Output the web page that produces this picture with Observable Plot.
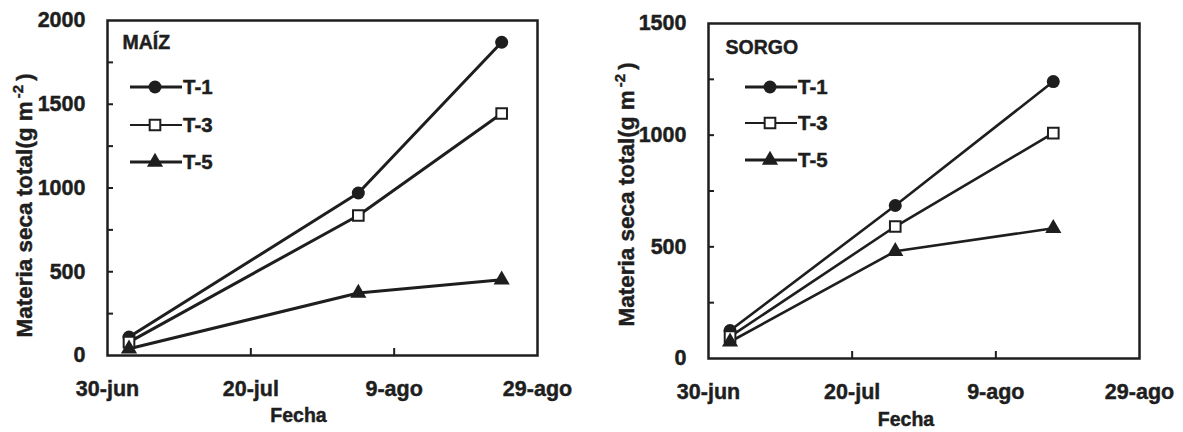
<!DOCTYPE html>
<html>
<head>
<meta charset="utf-8">
<script src="https://cdn.jsdelivr.net/npm/d3@7"></script>
<script src="https://cdn.jsdelivr.net/npm/@observablehq/plot@0.6"></script>
<style>
  body { margin: 0; background: #fff; }
  #chart { display: flex; width: 1183px; height: 432px; }
  #chart svg text { stroke: #1e1e1e; stroke-width: 0.45px; }
</style>
</head>
<body>
<div id="chart"></div>
<script>
// Treatments shown in both panels
const seriesNames = ["T-1", "T-3", "T-5"];

// Date axis (Fecha)
const xTickDates = ["2001-06-30", "2001-07-20", "2001-08-09", "2001-08-29"];
const xTickLabels = ["30-jun", "20-jul", "9-ago", "29-ago"];

// MAÍZ: total dry matter (g m-2) per sampling date
const maizFechas = ["2001-07-03", "2001-08-04", "2001-08-24"];
const maizT1 = [110, 970, 1870];
const maizT3 = [80, 836, 1445];
const maizT5 = [40, 373, 452];
const maizYTicks = [0, 500, 1000, 1500, 2000];
const maizYMinor = [250, 500, 750, 1000, 1250, 1500, 1750];

// SORGO: total dry matter (g m-2) per sampling date
const sorgoFechas = ["2001-07-03", "2001-07-26", "2001-08-17"];
const sorgoT1 = [125, 685, 1240];
const sorgoT3 = [98, 591, 1009];
const sorgoT5 = [75, 480, 583];
const sorgoYTicks = [0, 500, 1000, 1500];
const sorgoYMinor = [250, 500, 750, 1000, 1250];

const ink = "#1e1e1e";
const font = "'Liberation Sans', Arial, Helvetica, sans-serif";
const yLabel = "Materia seca total(g m";

const parse = d3.isoParse;

function rowsFor(fechas, t1, t3, t5) {
  const rows = [];
  [t1, t3, t5].forEach((vals, s) => {
    vals.forEach((v, i) => rows.push({serie: seriesNames[s], fecha: parse(fechas[i]), valor: v}));
  });
  return rows;
}

// Marker styles per treatment
const markerStyle = {
  "T-1": {symbol: "circle", r: 6.5, fill: ink, stroke: "none", strokeWidth: 0},
  "T-3": {symbol: "square", r: 6.0, fill: "#fff", stroke: ink, strokeWidth: 2},
  "T-5": {symbol: "triangle", r: 6.0, fill: ink, stroke: "none", strokeWidth: 0}
};

// Legend drawn inside the frame, offsets relative to the frame's top-left corner
function legendMark(cfg) {
  return (index, scales, values, dims) => {
    const g = d3.create("svg:g");
    seriesNames.forEach((name, i) => {
      const st = markerStyle[name];
      const y = dims.marginTop + cfg.rows[i];
      const x0 = dims.marginLeft + cfg.lineStart;
      const x1 = dims.marginLeft + cfg.lineEnd;
      const xm = dims.marginLeft + cfg.marker;
      g.append("line")
        .attr("x1", x0).attr("x2", x1).attr("y1", y).attr("y2", y)
        .attr("stroke", ink).attr("stroke-width", name === "T-3" ? 2 : 3);
      const sym = {circle: d3.symbolCircle, square: d3.symbolSquare, triangle: d3.symbolTriangle}[st.symbol];
      g.append("path")
        .attr("transform", `translate(${xm},${y})`)
        .attr("d", d3.symbol(sym, Math.PI * st.r * st.r)())
        .attr("fill", st.fill).attr("stroke", st.stroke).attr("stroke-width", st.strokeWidth);
      g.append("text")
        .attr("x", dims.marginLeft + cfg.text).attr("y", y).attr("dy", "0.35em")
        .attr("text-anchor", "start")
        .attr("font-size", 20.5).attr("font-weight", "bold").attr("font-family", font)
        .attr("fill", ink).text(name);
    });
    return g.node();
  };
}

function panel(cfg) {
  const rows = rowsFor(cfg.fechas, cfg.t1, cfg.t3, cfg.t5);
  const frameW = cfg.width - cfg.ml - cfg.mr;
  const frameH = cfg.height - cfg.mt - cfg.mb;
  const tickDates = xTickDates.map(parse);
  const labelFor = d => xTickLabels[tickDates.findIndex(t => +t === +d)];

  const dotMarks = seriesNames.map(name => {
    const st = markerStyle[name];
    return Plot.dot(rows.filter(r => r.serie === name), {
      x: "fecha", y: "valor", symbol: () => st.symbol, r: st.r,
      fill: st.fill, stroke: st.stroke, strokeWidth: st.strokeWidth
    });
  });

  const svg = Plot.plot({
    width: cfg.width,
    height: cfg.height,
    marginLeft: cfg.ml,
    marginRight: cfg.mr,
    marginTop: cfg.mt,
    marginBottom: cfg.mb,
    style: {fontFamily: font, fontSize: "21.5px", fontWeight: "bold", color: ink, background: "#fff", overflow: "visible"},
    symbol: {type: "identity"},
    x: {
      type: "utc",
      domain: [tickDates[0], tickDates[tickDates.length - 1]],
      ticks: tickDates,
      tickFormat: labelFor,
      tickSize: 0,
      tickPadding: 25,
      label: null
    },
    y: {
      domain: [0, cfg.yMax],
      ticks: cfg.yTicks,
      tickFormat: d => String(d),
      tickSize: 0,
      tickPadding: 22,
      label: null
    },
    marks: [
      // inward ticks on the left edge
      Plot.tickY(cfg.yMinor, {y: d => d, insetRight: frameW - 6, stroke: ink, strokeWidth: 2}),
      // inward ticks on the bottom edge (interior dates only)
      Plot.tickX(tickDates.slice(1, -1), {x: d => d, insetTop: frameH - 7, stroke: ink, strokeWidth: 2}),
      Plot.line(rows, {x: "fecha", y: "valor", z: "serie", stroke: ink, strokeWidth: cfg.lineWidth}),
      ...dotMarks,
      Plot.frame({stroke: ink, strokeWidth: 2.5}),
      Plot.text([cfg.title], {
        frameAnchor: "top-left", text: d => d, dx: cfg.titleDx, dy: cfg.titleDy,
        textAnchor: "start", lineAnchor: "middle", fontSize: 19.5, fontWeight: "bold", fill: ink
      }),
      Plot.text(["Fecha"], {
        frameAnchor: "bottom", text: d => d, dx: cfg.fechaDx, dy: cfg.fechaDy,
        lineAnchor: "top", fontSize: 19.5, fontWeight: "bold", fill: ink
      }),
      Plot.text([yLabel], {
        frameAnchor: "bottom-left", text: d => d, dx: cfg.yLabelDx, dy: cfg.yLabelDy,
        rotate: -90, textAnchor: "start", lineAnchor: "middle", fontSize: 22.5, fontWeight: "bold", fill: ink
      }),
      legendMark(cfg.legend)
    ]
  });

  // superscript unit exponent on the vertical axis label
  d3.select(svg).selectAll("text").filter(function () { return this.textContent === yLabel; })
    .each(function () {
      const t = d3.select(this);
      t.append("tspan").attr("font-size", 15).attr("dx", 3).attr("dy", -9).text("-2");
      t.append("tspan").attr("dx", 4).attr("dy", 9).text(")");
    });

  return svg;
}

const chart = document.getElementById("chart");

chart.append(panel({
  title: "MAÍZ",
  fechas: maizFechas, t1: maizT1, t3: maizT3, t5: maizT5,
  yMax: 2000, yTicks: maizYTicks, yMinor: maizYMinor,
  width: 591, height: 432, ml: 107, mr: 54, mt: 20, mb: 77,
  lineWidth: 3,
  titleDx: 15, titleDy: 22,
  fechaDx: -24, fechaDy: 53,
  yLabelDx: -83, yLabelDy: -18,
  legend: {rows: [67, 105, 142], lineStart: 23, lineEnd: 75, marker: 48, text: 76}
}));

chart.append(panel({
  title: "SORGO",
  fechas: sorgoFechas, t1: sorgoT1, t3: sorgoT3, t5: sorgoT5,
  yMax: 1500, yTicks: sorgoYTicks, yMinor: sorgoYMinor,
  width: 592, height: 432, ml: 117, mr: 44, mt: 23, mb: 74,
  lineWidth: 2.6,
  titleDx: 17, titleDy: 24,
  fechaDx: -18, fechaDy: 54,
  yLabelDx: -82, yLabelDy: -32,
  legend: {rows: [64, 100, 137], lineStart: 37, lineEnd: 89, marker: 62, text: 90}
}));
</script>
</body>
</html>
